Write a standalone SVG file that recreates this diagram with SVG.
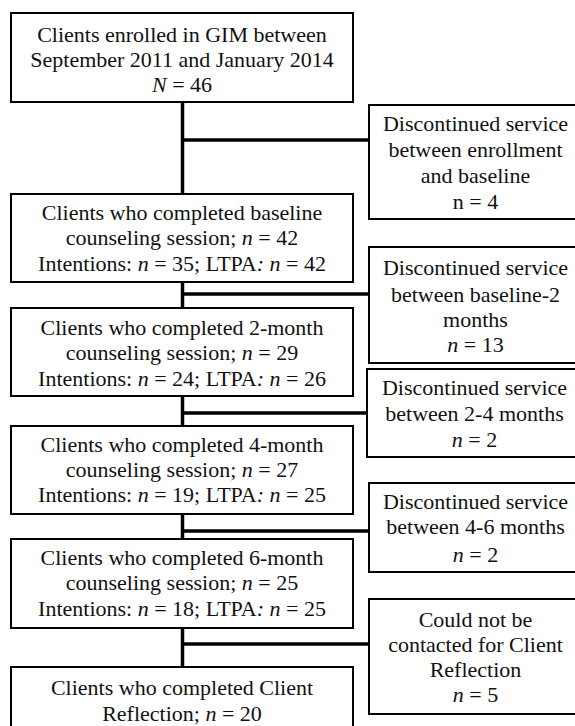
<svg xmlns="http://www.w3.org/2000/svg" width="575" height="726" viewBox="0 0 575 726">
<style>
.box{fill:#fff;stroke:#000;stroke-width:2}
.t{font-family:'Liberation Serif','Times New Roman',serif;font-size:22px;fill:#111;text-anchor:middle}
.i{font-style:italic}
.c{stroke:#000;stroke-width:3.5;fill:none}
</style>
<rect width="575" height="726" fill="#fff"/>
<g id="connectors">
<line class="c" x1="182.5" y1="102" x2="182.5" y2="668"/>
<line class="c" x1="181" y1="140" x2="369" y2="140"/>
<line class="c" x1="181" y1="294" x2="369" y2="294"/>
<line class="c" x1="181" y1="413" x2="368" y2="413"/>
<line class="c" x1="181" y1="531" x2="369" y2="531"/>
<line class="c" x1="181" y1="644" x2="369" y2="644"/>
</g>
<g id="n1">
<rect class="box" x="11" y="13" width="342" height="89"/>
<text class="t" x="182" y="42">Clients enrolled in GIM between</text>
<text class="t" x="182" y="67">September 2011 and January 2014</text>
<text class="t" x="182" y="92"><tspan class="i">N</tspan> = 46</text>
</g>
<g id="n2">
<rect class="box" x="11" y="194" width="342" height="88"/>
<text class="t" x="182" y="220">Clients who completed baseline</text>
<text class="t" x="182" y="245">counseling session; <tspan class="i">n</tspan> = 42</text>
<text class="t" x="182" y="271">Intentions: <tspan class="i">n</tspan> = 35; LTPA<tspan class="i">: n</tspan> = 42</text>
</g>
<g id="n3">
<rect class="box" x="11" y="308" width="342" height="88"/>
<text class="t" x="182" y="335">Clients who completed 2-month</text>
<text class="t" x="182" y="360">counseling session; <tspan class="i">n</tspan> = 29</text>
<text class="t" x="182" y="386">Intentions: <tspan class="i">n</tspan> = 24; LTPA<tspan class="i">: n</tspan> = 26</text>
</g>
<g id="n4">
<rect class="box" x="11" y="426" width="342" height="88"/>
<text class="t" x="182" y="452">Clients who completed 4-month</text>
<text class="t" x="182" y="477">counseling session; <tspan class="i">n</tspan> = 27</text>
<text class="t" x="182" y="502">Intentions: <tspan class="i">n</tspan> = 19; LTPA<tspan class="i">: n</tspan> = 25</text>
</g>
<g id="n5">
<rect class="box" x="11" y="539" width="342" height="89"/>
<text class="t" x="182" y="565">Clients who completed 6-month</text>
<text class="t" x="182" y="590">counseling session; <tspan class="i">n</tspan> = 25</text>
<text class="t" x="182" y="616">Intentions: <tspan class="i">n</tspan> = 18; LTPA<tspan class="i">: n</tspan> = 25</text>
</g>
<g id="n6">
<rect class="box" x="11" y="667" width="342" height="70"/>
<text class="t" x="182" y="695">Clients who completed Client</text>
<text class="t" x="182" y="721">Reflection; <tspan class="i">n</tspan> = 20</text>
</g>
<g id="r1">
<rect class="box" x="369" y="105" width="215" height="114"/>
<text class="t" x="475.5" y="131">Discontinued service</text>
<text class="t" x="475.5" y="157">between enrollment</text>
<text class="t" x="475.5" y="183">and baseline</text>
<text class="t" x="475.5" y="209">n = 4</text>
</g>
<g id="r2">
<rect class="box" x="369" y="247" width="215" height="116"/>
<text class="t" x="475.5" y="275">Discontinued service</text>
<text class="t" x="475.5" y="302">between baseline-2</text>
<text class="t" x="475.5" y="327">months</text>
<text class="t" x="475.5" y="352"><tspan class="i">n</tspan> = 13</text>
</g>
<g id="r3">
<rect class="box" x="367" y="369" width="217" height="88"/>
<text class="t" x="474.5" y="395">Discontinued service</text>
<text class="t" x="474.5" y="421">between 2-4 months</text>
<text class="t" x="474.5" y="447"><tspan class="i">n</tspan> = 2</text>
</g>
<g id="r4">
<rect class="box" x="369" y="483" width="215" height="89"/>
<text class="t" x="475.5" y="509">Discontinued service</text>
<text class="t" x="475.5" y="534">between 4-6 months</text>
<text class="t" x="475.5" y="562"><tspan class="i">n</tspan> = 2</text>
</g>
<g id="r5">
<rect class="box" x="369" y="599" width="215" height="115"/>
<text class="t" x="475.5" y="627">Could not be</text>
<text class="t" x="475.5" y="652">contacted for Client</text>
<text class="t" x="475.5" y="677">Reflection</text>
<text class="t" x="475.5" y="702"><tspan class="i">n</tspan> = 5</text>
</g>
</svg>
